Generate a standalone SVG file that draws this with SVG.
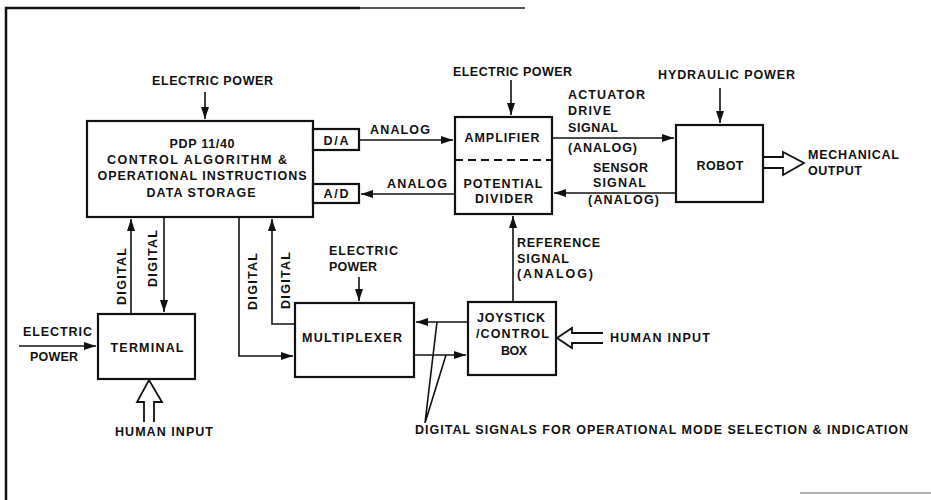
<svg xmlns="http://www.w3.org/2000/svg" width="931" height="500" viewBox="0 0 931 500">
<style>
text{font-family:"Liberation Sans",Arial,sans-serif;font-weight:bold;font-size:12.5px;fill:#111}
.box{fill:#fff;stroke:#111;stroke-width:2.2}
.ln{fill:none;stroke:#111;stroke-width:1.6}
.hol{fill:#fff;stroke:#111;stroke-width:1.8;stroke-linejoin:miter}
.m{text-anchor:middle}
</style>
<defs>
<marker id="ah" markerUnits="userSpaceOnUse" markerWidth="13" markerHeight="9" refX="12" refY="4" orient="auto">
<path d="M0,0 L12,4 L0,8 Z" fill="#111"/>
</marker>
</defs>
<rect width="931" height="500" fill="#fff"/>
<g id="frame">
<path d="M6,500 V8 H360" fill="none" stroke="#111" stroke-width="2.5"/>
<path d="M360,8 H525" stroke="#555" stroke-width="1.8"/>
<path d="M800,493 H931" stroke="#999" stroke-width="1.5"/>
</g>
<g id="connectors">
<path class="ln" d="M205,92 V119" marker-end="url(#ah)"/>
<path class="ln" d="M511,80 V115" marker-end="url(#ah)"/>
<path class="ln" d="M720,88 V123" marker-end="url(#ah)"/>
<path class="ln" d="M359,140 H453" marker-end="url(#ah)"/>
<path class="ln" d="M455,194 H361" marker-end="url(#ah)"/>
<path class="ln" d="M552,138 H674" marker-end="url(#ah)"/>
<path class="ln" d="M676,193 H554" marker-end="url(#ah)"/>
<path class="ln" d="M131,314 V219" marker-end="url(#ah)"/>
<path class="ln" d="M164,217 V312" marker-end="url(#ah)"/>
<path class="ln" d="M19,346 H96" marker-end="url(#ah)"/>
<path class="ln" d="M239,217 V356 H293" marker-end="url(#ah)"/>
<path class="ln" d="M295,324 H272 V219" marker-end="url(#ah)"/>
<path class="ln" d="M359,277 V301" marker-end="url(#ah)"/>
<path class="ln" d="M468,322 H416" marker-end="url(#ah)"/>
<path class="ln" d="M414,355 H466" marker-end="url(#ah)"/>
<path class="ln" d="M513,302 V216" marker-end="url(#ah)"/>
<path class="ln" d="M437,322 L425,423 M446,355 L425,423" stroke-width="1.3"/>
<polyline class="hol" points="763,157 783,157 783,152 804,163 783,175 783,168 763,168"/>
<polyline class="hol" points="603,333 572,333 572,328 557,338 572,348 572,343 603,343"/>
<polyline class="hol" points="144,422 144,402 137,402 149,380 162,402 154,402 154,422"/>
</g>
<g id="pdp">
<rect class="box" x="87" y="121" width="226" height="96"/>
<text class="m" x="202" y="148" textLength="65">PDP 11/40</text>
<text class="m" x="197" y="164" textLength="180">CONTROL ALGORITHM &amp;</text>
<text class="m" x="202" y="180" textLength="209">OPERATIONAL INSTRUCTIONS</text>
<text class="m" x="201" y="197" textLength="109">DATA STORAGE</text>
</g>
<g id="da">
<rect class="box" x="313" y="129" width="46" height="21"/>
<text class="m" x="336" y="145" textLength="25">D/A</text>
</g>
<g id="ad">
<rect class="box" x="313" y="184" width="46" height="19"/>
<text class="m" x="336" y="198" textLength="25">A/D</text>
</g>
<g id="amplifier">
<rect class="box" x="455" y="117" width="97" height="97"/>
<path d="M455,160 H552" stroke="#111" stroke-width="2" stroke-dasharray="8,5"/>
<text class="m" x="502" y="142" textLength="75">AMPLIFIER</text>
<text class="m" x="503" y="188" textLength="79">POTENTIAL</text>
<text class="m" x="504" y="203" textLength="58">DIVIDER</text>
</g>
<g id="robot">
<rect class="box" x="676" y="125" width="87" height="77"/>
<text class="m" x="720" y="170" textLength="47">ROBOT</text>
</g>
<g id="terminal">
<rect class="box" x="98" y="314" width="97" height="65"/>
<text class="m" x="147" y="352" textLength="73">TERMINAL</text>
</g>
<g id="multiplexer">
<rect class="box" x="295" y="303" width="119" height="74"/>
<text class="m" x="352" y="342" textLength="100">MULTIPLEXER</text>
</g>
<g id="joystick">
<rect class="box" x="468" y="302" width="88" height="73"/>
<text x="477" y="322" textLength="68">JOYSTICK</text>
<text x="476" y="338" textLength="73">/CONTROL</text>
<text class="m" x="514" y="355" textLength="26">BOX</text>
</g>
<g id="labels">
<text x="152" y="85" textLength="121">ELECTRIC POWER</text>
<text x="453" y="76" textLength="119">ELECTRIC POWER</text>
<text x="658" y="79" textLength="137">HYDRAULIC POWER</text>
<text x="370" y="134" textLength="60">ANALOG</text>
<text x="387" y="188" textLength="60">ANALOG</text>
<text x="568" y="99" textLength="77">ACTUATOR</text>
<text x="568" y="115" textLength="43">DRIVE</text>
<text x="568" y="132" textLength="50">SIGNAL</text>
<text x="568" y="152" textLength="69">(ANALOG)</text>
<text x="593" y="172" textLength="55">SENSOR</text>
<text x="593" y="187" textLength="53">SIGNAL</text>
<text x="588" y="204" textLength="71">(ANALOG)</text>
<text x="808" y="159" textLength="91">MECHANICAL</text>
<text x="808" y="175" textLength="54">OUTPUT</text>
<text x="23" y="336" textLength="69">ELECTRIC</text>
<text x="30" y="361" textLength="48">POWER</text>
<text x="329" y="255" textLength="69">ELECTRIC</text>
<text x="329" y="271" textLength="48">POWER</text>
<text x="517" y="247" textLength="83">REFERENCE</text>
<text x="517" y="263" textLength="52">SIGNAL</text>
<text x="517" y="278" textLength="76">(ANALOG)</text>
<text x="610" y="342" textLength="100">HUMAN INPUT</text>
<text x="115" y="436" textLength="98">HUMAN INPUT</text>
<text x="415" y="434" textLength="493">DIGITAL SIGNALS FOR OPERATIONAL MODE SELECTION &amp; INDICATION</text>
<text transform="translate(126,305) rotate(-90)" textLength="57">DIGITAL</text>
<text transform="translate(157,287) rotate(-90)" textLength="57">DIGITAL</text>
<text transform="translate(257,310) rotate(-90)" textLength="57">DIGITAL</text>
<text transform="translate(290,309) rotate(-90)" textLength="57">DIGITAL</text>
</g>
</svg>
